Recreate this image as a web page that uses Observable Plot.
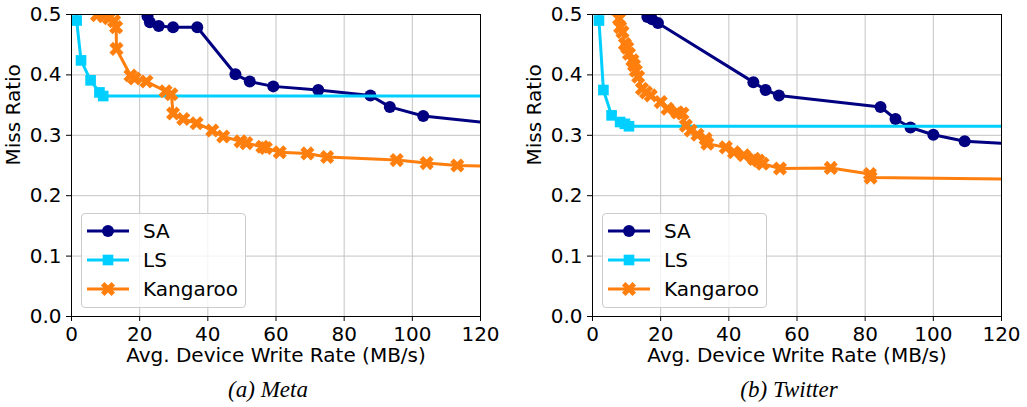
<!DOCTYPE html>
<html><head><meta charset="utf-8">
<script src="https://cdn.jsdelivr.net/npm/d3@7"></script>
<script src="https://cdn.jsdelivr.net/npm/@observablehq/plot@0.6"></script>
<style>
body{margin:0;background:#fff;}
#wrap{position:relative;width:1027px;height:407px;overflow:hidden;background:#fff;}
.panel{position:absolute;top:0;}
.legend{position:absolute;top:213px;width:163px;height:91px;border:1px solid #cccccc;border-radius:4px;background:rgba(255,255,255,0.8);font-family:"DejaVu Sans";font-size:20px;color:#000;padding-top:2px;box-sizing:content-box;}
.legend .row{height:29px;display:flex;align-items:center;}
.legend svg{margin-left:5px;margin-right:14px;}
.caption{position:absolute;top:377px;width:300px;text-align:center;font-family:"Liberation Serif";font-style:italic;font-size:23px;line-height:26px;color:#000;}
</style></head><body><div id="wrap"></div>
<script>
// ---- data ----
const xTicks = [0, 20, 40, 60, 80, 100, 120];
const yTicks = [0, 0.1, 0.2, 0.3, 0.4, 0.5];
const seriesNames = ["SA", "LS", "Kangaroo"];
const panelCaptions = ["(a) Meta", "(b) Twitter"];
const xLabel = "Avg. Device Write Rate (MB/s)";
const yLabel = "Miss Ratio";

const metaSAx = [22.3, 23.0, 25.6, 29.8, 36.9, 48.1, 52.3, 59.2, 72.4, 87.7, 93.4, 103.2, 130];
const metaSAy = [0.497, 0.487, 0.481, 0.479, 0.479, 0.401, 0.389, 0.381, 0.375, 0.366, 0.347, 0.332, 0.316];
const metaLSx = [1.0, 1.5, 2.8, 5.6, 8.2, 9.3, 130];
const metaLSy = [0.60, 0.490, 0.424, 0.391, 0.371, 0.365, 0.365];
const metaKGx = [5.0, 7.5, 9.5, 11.0, 12.5, 13.1, 13.2, 17.3, 18.5, 22.0, 27.6, 29.3, 29.8, 32.8, 36.7, 41.3, 44.5, 49.6, 51.3, 56.0, 57.0, 61.1, 69.2, 75.0, 95.4, 104.2, 113.2, 130];
const metaKGy = [0.52, 0.499, 0.497, 0.494, 0.489, 0.479, 0.443, 0.399, 0.394, 0.389, 0.373, 0.368, 0.336, 0.327, 0.320, 0.308, 0.298, 0.290, 0.287, 0.281, 0.279, 0.272, 0.270, 0.264, 0.259, 0.254, 0.250, 0.248];

const twSAx = [13.5, 16.1, 17.5, 19.2, 47.2, 50.8, 54.7, 84.5, 88.9, 93.3, 100.0, 109.2, 130];
const twSAy = [0.51, 0.496, 0.492, 0.486, 0.388, 0.375, 0.366, 0.347, 0.327, 0.313, 0.301, 0.290, 0.284];
const twLSx = [1.6, 1.9, 3.2, 5.6, 8.1, 9.5, 10.7, 130];
const twLSy = [0.60, 0.490, 0.375, 0.333, 0.322, 0.319, 0.315, 0.315];
const twKGx = [6.5, 7.8, 8.1, 8.8, 9.5, 10.2, 10.7, 11.7, 12.2, 12.7, 13.4, 14.5, 15.7, 17.1, 20.0, 22.0, 24.9, 26.4, 27.4, 28.8, 30.8, 33.2, 33.7, 39.1, 41.5, 44.4, 47.4, 48.7, 49.9, 55.0, 69.9, 81.4, 81.6, 130];
const twKGy = [0.51, 0.493, 0.479, 0.471, 0.451, 0.445, 0.435, 0.424, 0.416, 0.407, 0.397, 0.377, 0.371, 0.366, 0.355, 0.344, 0.338, 0.336, 0.316, 0.308, 0.301, 0.294, 0.286, 0.280, 0.272, 0.267, 0.261, 0.258, 0.253, 0.245, 0.246, 0.236, 0.230, 0.227];

// ---- styles ----
const seriesColors = ["#000080", "#00cfff", "#ff7f0e"];
const seriesSymbols = ["circle", "square", "cross"];
const seriesR = [6, 6, 6.3];
const seriesRotate = [0, 0, 45];

function rows(xs, ys) { return xs.map((x, i) => ({x, y: ys[i]})); }

const panels = [
  {caption: panelCaptions[0], left: 0, marginLeft: 71, marginRight: 33, capCenter: 268,
   data: [rows(metaSAx, metaSAy), rows(metaLSx, metaLSy), rows(metaKGx, metaKGy)]},
  {caption: panelCaptions[1], left: 514, marginLeft: 78, marginRight: 26, capCenter: 789,
   data: [rows(twSAx, twSAy), rows(twLSx, twLSy), rows(twKGx, twKGy)]}
];

const wrap = document.getElementById("wrap");

panels.forEach(p => {
  const marks = [
    Plot.gridX(xTicks, {stroke: "#c4c4c4", strokeOpacity: 1, strokeWidth: 1}),
    Plot.gridY(yTicks, {stroke: "#c4c4c4", strokeOpacity: 1, strokeWidth: 1})
  ];
  seriesNames.forEach((name, i) => {
    marks.push(Plot.line(p.data[i], {x: "x", y: "y", stroke: seriesColors[i], strokeWidth: 3, clip: true}));
    marks.push(Plot.dot(p.data[i], {x: "x", y: "y", fill: seriesColors[i], stroke: "none", symbol: seriesSymbols[i], r: seriesR[i], rotate: seriesRotate[i], clip: true}));
  });
  marks.push(Plot.frame({stroke: "black", strokeWidth: 1}));
  marks.push(Plot.axisX(xTicks, {tickSize: 5, tickPadding: 5, fontSize: 20, label: null, tickFormat: d => String(d)}));
  marks.push(Plot.axisY(yTicks, {tickSize: 5, tickPadding: 5, fontSize: 20, label: null, tickFormat: d3.format(".1f")}));
  marks.push(Plot.text([xLabel], {text: d => d, frameAnchor: "bottom", dy: 45, fontSize: 20}));
  marks.push(Plot.text([yLabel], {text: d => d, frameAnchor: "left", dx: -58, rotate: -90, fontSize: 20}));

  const chart = Plot.plot({
    width: 513, height: 372,
    marginLeft: p.marginLeft, marginRight: p.marginRight, marginTop: 14, marginBottom: 56,
    style: {fontFamily: "DejaVu Sans", fontSize: "20px", background: "transparent", color: "black"},
    x: {domain: [0, 120]},
    y: {domain: [0, 0.5]},
    marks
  });
  const div = document.createElement("div");
  div.className = "panel";
  div.style.left = p.left + "px";
  div.appendChild(chart);
  wrap.appendChild(div);

  // legend
  const leg = document.createElement("div");
  leg.className = "legend";
  leg.style.left = (p.left + p.marginLeft + 10) + "px";
  seriesNames.forEach((name, i) => {
    const row = document.createElement("div");
    row.className = "row";
    const svg = d3.create("svg").attr("width", 42).attr("height", 20);
    svg.append("line").attr("x1", 0).attr("x2", 42).attr("y1", 10).attr("y2", 10)
      .attr("stroke", seriesColors[i]).attr("stroke-width", 3);
    const symType = {circle: d3.symbolCircle, square: d3.symbolSquare, cross: d3.symbolCross}[seriesSymbols[i]];
    svg.append("path").attr("d", d3.symbol(symType, seriesR[i] * seriesR[i] * Math.PI)())
      .attr("transform", `translate(21,10) rotate(${seriesRotate[i]})`).attr("fill", seriesColors[i]);
    row.appendChild(svg.node());
    const t = document.createElement("span");
    t.textContent = name;
    row.appendChild(t);
    leg.appendChild(row);
  });
  wrap.appendChild(leg);

  const cap = document.createElement("div");
  cap.className = "caption";
  cap.style.left = (p.capCenter - 150) + "px";
  cap.textContent = p.caption;
  wrap.appendChild(cap);
});
</script></body></html>
